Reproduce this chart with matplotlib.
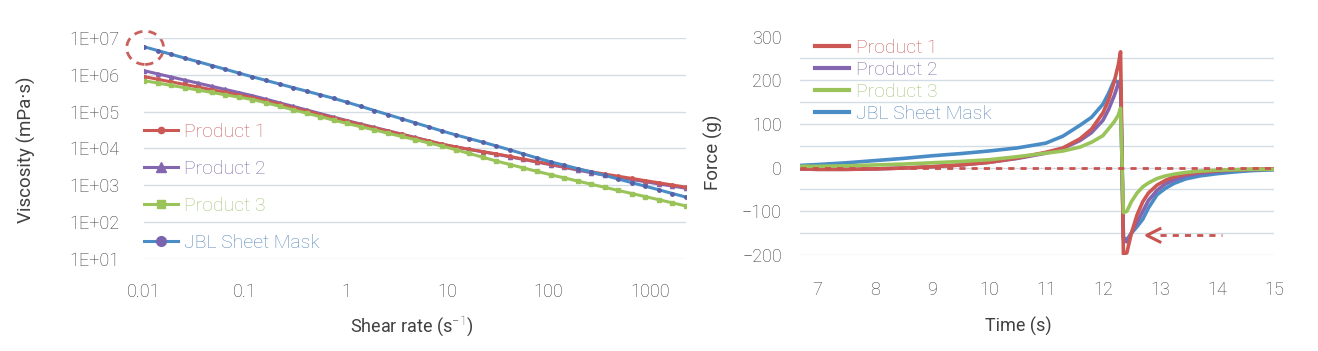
import matplotlib
matplotlib.use('Agg')
import matplotlib.pyplot as plt
from matplotlib.lines import Line2D
from matplotlib.patches import Ellipse

plt.rcParams['font.family'] = ['Roboto', 'DejaVu Sans']
plt.rcParams['font.weight'] = 'light'
plt.rcParams['mathtext.fontset'] = 'custom'
plt.rcParams['mathtext.rm'] = 'Roboto:light'

# ---- viscosity data (left) ----
shear_rate = [0.01, 0.0136, 0.0185, 0.0252, 0.0344, 0.0468, 0.0637, 0.0867, 0.118, 0.161,
              0.219, 0.298, 0.406, 0.552, 0.752, 1.02, 1.39, 1.90, 2.58, 3.52,
              4.79, 6.52, 8.87, 12.1, 16.4, 22.4, 30.5, 41.5, 56.5, 76.9,
              105, 143, 194, 264, 360, 490, 667, 908, 1240, 1680, 2290]
visc_p1 = [8.91e5, 7.57e5, 6.41e5, 5.45e5, 4.62e5, 3.93e5, 3.33e5, 2.82e5, 2.40e5, 1.95e5,
           1.58e5, 1.27e5, 1.03e5, 8.32e4, 6.73e4, 5.46e4, 4.45e4, 3.62e4, 2.95e4, 2.40e4,
           1.96e4, 1.60e4, 1.30e4, 1.10e4, 9510, 8220, 7110, 6070, 5150, 4380,
           3720, 3180, 2730, 2340, 2020, 1760, 1540, 1340, 1170, 1020, 891]
visc_p2 = [1.29e6, 1.06e6, 8.71e5, 7.18e5, 5.90e5, 4.85e5, 3.99e5, 3.28e5, 2.70e5, 2.17e5,
           1.73e5, 1.39e5, 1.11e5, 8.85e4, 7.08e4, 5.69e4, 4.60e4, 3.73e4, 3.03e4, 2.45e4,
           1.99e4, 1.61e4, 1.30e4, 1.10e4, 9420, 8110, 6970, 5930, 5040, 4280,
           3620, 3070, 2590, 2200, 1880, 1640, 1440, 1250, 1090, 953, 832]
visc_p3 = [6.92e5, 5.97e5, 5.15e5, 4.45e5, 3.84e5, 3.31e5, 2.86e5, 2.47e5, 2.13e5, 1.73e5,
           1.40e5, 1.12e5, 9.06e4, 7.29e4, 5.87e4, 4.76e4, 3.89e4, 3.18e4, 2.60e4, 2.12e4,
           1.74e4, 1.42e4, 1.16e4, 9270, 7330, 5780, 4570, 3670, 2960, 2390,
           1940, 1590, 1310, 1070, 881, 726, 598, 493, 406, 334, 275]
visc_jbl = [5.75e6, 4.55e6, 3.60e6, 2.84e6, 2.25e6, 1.78e6, 1.41e6, 1.11e6, 8.79e5, 7.02e5,
            5.60e5, 4.48e5, 3.58e5, 2.86e5, 2.29e5, 1.79e5, 1.39e5, 1.07e5, 8.30e4, 6.41e4,
            4.97e4, 3.85e4, 2.97e4, 2.34e4, 1.86e4, 1.48e4, 1.17e4, 9160, 7110, 5530,
            4330, 3510, 2840, 2310, 1860, 1480, 1180, 944, 753, 600, 479]

# ---- force data (right) ----
time_s = [6.69, 7.0, 7.5, 8.0, 8.5, 9.0, 9.5, 10.0, 10.5, 11.0, 11.3, 11.6, 11.8, 12.0,
          12.1, 12.2, 12.27, 12.31, 12.36, 12.42, 12.5, 12.6, 12.7, 12.8, 12.95, 13.1,
          13.25, 13.45, 13.7, 14.0, 14.3, 14.6, 15.0]
force_p1 = [-3, -4, -4, -3, -1, 2, 6, 12, 22, 35, 45, 66, 88, 125,
            155, 197, 235, 265, -198, -195, -150, -108, -78, -58, -40, -29,
            -21, -15, -10, -7, -5, -4, -3]
force_p2 = [-3, -4, -4, -3, -1, 2, 6, 12, 21, 33, 44, 62, 80, 108,
            133, 165, 192, 200, -165, -170, -150, -125, -100, -75, -52, -37,
            -28, -19, -13, -9, -6, -5, -4]
force_p3 = [3, 3, 4, 6, 8, 11, 14, 18, 25, 33, 38, 47, 58, 73,
            89, 105, 120, 136, -103, -100, -78, -58, -44, -35, -25, -19,
            -15, -11, -8, -6, -5, -4, -4]
force_jbl = [5, 7, 11, 16, 21, 27, 32, 38, 45, 56, 72, 97, 115, 145,
             170, 200, 195, 185, -160, -165, -150, -135, -118, -92, -62, -47,
             -36, -26, -19, -14, -10, -7, -5]

labels = ['Product 1', 'Product 2', 'Product 3', 'JBL Sheet Mask']
line_colors = ['#cd5753', '#8466b0', '#9ac45a', '#4a8cc6']
text_colors = ['#c8615d', '#7f6fa6', '#a3c677', '#5786b8']
grid_color = '#d3dde6'
tick_color = '#3a3a3a'

fig = plt.figure(figsize=(13.18, 3.51), dpi=100)

# ================= left: viscosity =================
ax1 = fig.add_axes([0.1093, 0.262, 0.4112, 0.630])
ax1.set_xscale('log')
ax1.set_yscale('log')
ax1.plot(shear_rate, visc_p2, color=line_colors[1], lw=2.2, marker='^', ms=3,
         mfc=line_colors[1], mec=line_colors[1], zorder=3)
ax1.plot(shear_rate, visc_p1, color=line_colors[0], lw=2.2, marker='o', ms=2.5,
         mfc=line_colors[0], mec=line_colors[0], zorder=3)
ax1.plot(shear_rate, visc_p3, color=line_colors[2], lw=2.2, marker='s', ms=2.5,
         mfc=line_colors[2], mec=line_colors[2], zorder=3)
ax1.plot(shear_rate, visc_jbl, color=line_colors[3], lw=2.2, marker='o', ms=2.5,
         mfc='#5a5fa6', mec='#5a5fa6', zorder=4)
ax1.set_xlim(0.01, 2290)
ax1.set_ylim(10, 1e7)
ax1.set_xticks([0.01, 0.1, 1, 10, 100, 1000])
ax1.set_xticklabels(['0.01', '0.1', '1', '10', '100', '1000'])
ax1.set_yticks([1e1, 1e2, 1e3, 1e4, 1e5, 1e6, 1e7])
ax1.set_yticklabels(['1E+01', '1E+02', '1E+03', '1E+04', '1E+05', '1E+06', '1E+07'])
ax1.minorticks_off()
ax1.tick_params(length=0, labelsize=13, colors=tick_color)
ax1.tick_params(axis='y', pad=18)
ax1.tick_params(axis='x', pad=17)
ax1.grid(axis='y', color=grid_color, lw=1)
for s in ax1.spines.values():
    s.set_visible(False)
ax1.set_xlabel('Shear rate (s$^{-1}$)', fontsize=13, color='#404040')
ax1.xaxis.set_label_coords(0.494, -0.25)
ax1.set_ylabel('Viscosity (mPa·s)', fontsize=13.5, color='#404040')
ax1.yaxis.set_label_coords(-0.2, 0.493)

leg_handles = [
    Line2D([], [], color=line_colors[0], lw=2.2, marker='o', ms=4.5),
    Line2D([], [], color=line_colors[1], lw=2.2, marker='^', ms=7),
    Line2D([], [], color=line_colors[2], lw=2.2, marker='s', ms=6),
    Line2D([], [], color=line_colors[3], lw=2.2, marker='o', ms=7,
           mfc='#7a64ae', mec='#7a64ae'),
]
ax1.legend(leg_handles, labels, loc='upper left', bbox_to_anchor=(0.0, 0.615),
           frameon=False, fontsize=14, handlelength=1.75, handletextpad=0.3,
           labelspacing=0.98, borderpad=0, borderaxespad=0, labelcolor=text_colors)

ax1.add_patch(Ellipse((0.002, 0.955), 0.068, 0.15, transform=ax1.transAxes,
                      fill=False, ec='#c9605b', lw=2, ls=(0, (3, 2.2)), clip_on=False))

# ================= right: force =================
ax2 = fig.add_axes([0.607, 0.2735, 0.3596, 0.6225])
ax2.plot(time_s, force_jbl, color=line_colors[3], lw=2.6, zorder=3)
ax2.plot(time_s, force_p3, color=line_colors[2], lw=2.6, zorder=4)
ax2.plot(time_s, force_p2, color=line_colors[1], lw=2.6, zorder=3)
ax2.plot(time_s, force_p1, color=line_colors[0], lw=2.6, zorder=3)
ax2.set_zorder(1)
ax2.set_xlim(6.69, 15)
ax2.set_ylim(-200, 300)
ax2.set_xticks([7, 8, 9, 10, 11, 12, 13, 14, 15])
ax2.set_yticks([-200, -100, 0, 100, 200, 300])
for g in [-200, -150, -100, -50, 0, 50, 100, 150, 200, 250]:
    ax2.axhline(g, color=grid_color, lw=1, zorder=1)
ax2.axhline(0, color='#c9534f', lw=2, ls=(0, (2.2, 2.2)), zorder=5)
# arrow pointing to the minimum
ax2.plot([13.0, 14.08], [-155, -155], color='#c9534f', lw=2, ls=(0, (2.2, 2.2)), zorder=5)
ax2.plot([13.0, 12.77, 13.0], [-140, -155, -170], color='#c9534f', lw=2.2, zorder=5)
ax2.tick_params(length=0, labelsize=13, colors=tick_color)
ax2.tick_params(axis='y', pad=13)
ax2.tick_params(axis='x', pad=19)
for s in ax2.spines.values():
    s.set_visible(False)
ax2.set_xlabel('Time (s)', fontsize=13, color='#404040')
ax2.xaxis.set_label_coords(0.46, -0.285)
ax2.set_ylabel('Force (g)', fontsize=13.5, color='#404040')
ax2.yaxis.set_label_coords(-0.162, 0.47)

leg2_handles = [Line2D([], [], color=c, lw=3) for c in line_colors]
ax2.legend(leg2_handles, labels, loc='upper left', bbox_to_anchor=(0.032, 0.99),
           frameon=False, fontsize=14, handlelength=1.75, handletextpad=0.35,
           labelspacing=0.21, borderpad=0, borderaxespad=0, labelcolor=text_colors)

fig.savefig('out.png', dpi=100)
